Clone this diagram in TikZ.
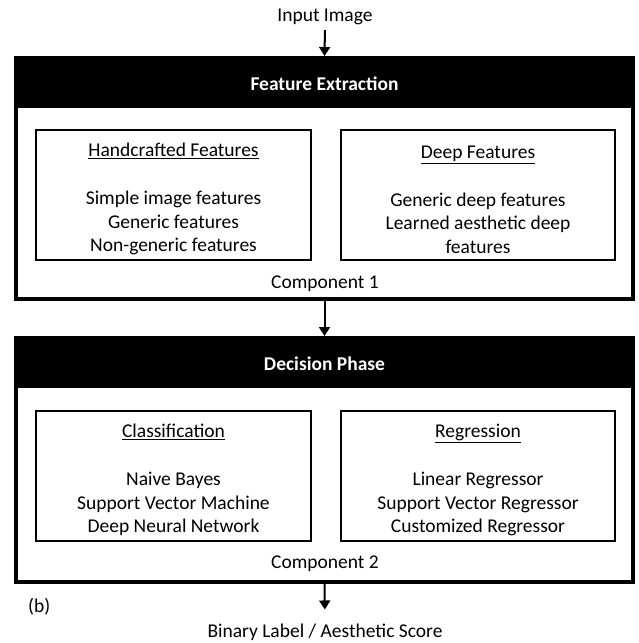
\documentclass[tikz,border=0pt]{standalone}
\usepackage{fontspec}
\setmainfont{Carlito}
\usetikzlibrary{arrows.meta}
\newcommand{\tstrut}{\rule{0pt}{22pt}}
\tikzset{
  outerbox/.style={draw=black,line width=4pt,minimum width=617pt,inner sep=0pt},
  headbox/.style={fill=black,text=white,font=\fontsize{19.5}{23.5}\selectfont\bfseries,minimum width=617pt,minimum height=49pt,inner sep=0pt},
  innerbox/.style={draw=black,line width=1.5pt,minimum width=275pt,minimum height=130pt,align=center,inner sep=0pt},
  plain/.style={inner sep=2pt},
  arr/.style={line width=2pt,-{Triangle[length=9pt,width=11pt]}}
}
\begin{document}
\begin{tikzpicture}[x=1pt,y=-1pt,font=\fontsize{19.5}{23.5}\selectfont]
\useasboundingbox (0,0) rectangle (638,643);
% Component 1
\node[outerbox,minimum height=241pt] (outer1) at (324.5,178.5) {};
\node[headbox] (head1) at (324.5,83.5) {Feature Extraction};
\node[innerbox] (hand) at (173.5,195) {\tstrut\underline{Handcrafted Features}\\[24.5pt]Simple image features\\Generic features\\Non-generic features};
\node[innerbox,minimum width=274pt] (deep) at (478,195) {\tstrut\underline{Deep Features}\\[24.5pt]Generic deep features\\Learned aesthetic deep\\features};
\node[plain] (comp1) at (325,284) {Component 1};
% Component 2
\node[outerbox,minimum height=244pt] (outer2) at (324.5,460) {};
\node[headbox] (head2) at (324.5,363.5) {Decision Phase};
\node[innerbox] (class) at (173.5,476) {\tstrut\underline{Classification}\\[24.5pt]Naive Bayes\\Support Vector Machine\\Deep Neural Network};
\node[innerbox,minimum width=274pt] (regr) at (478,476) {\tstrut\underline{Regression}\\[24.5pt]Linear Regressor\\Support Vector Regressor\\Customized Regressor};
\node[plain] (comp2) at (325,564) {Component 2};
% Inputs / outputs
\node[plain] (input) at (325,17) {Input Image};
\node[plain] (output) at (325,632) {Binary Label / Aesthetic Score};
\node[plain,anchor=west] (lblb) at (26,607) {(b)};
% Connectors
\draw[arr,shorten <=3pt] (input.south) -- (outer1.north);
\draw[arr] (outer1.south) -- (outer2.north);
\draw[arr,shorten >=12pt] (outer2.south) -- (output.north);
\end{tikzpicture}
\end{document}
